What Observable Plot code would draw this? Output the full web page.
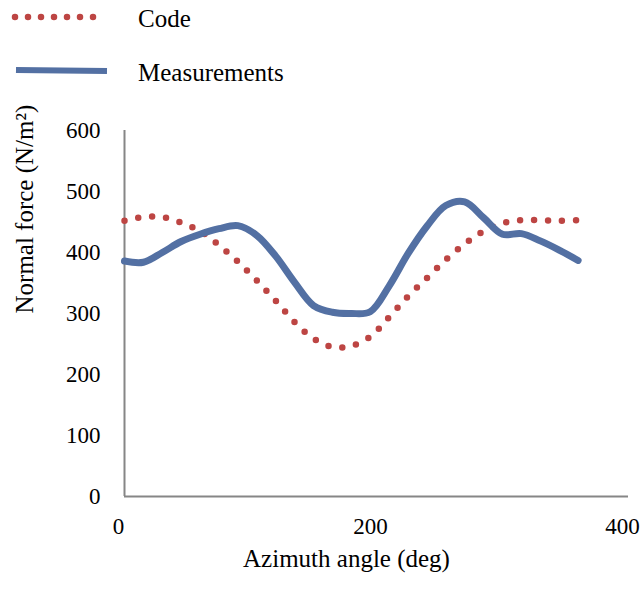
<!DOCTYPE html>
<html>
<head>
<meta charset="utf-8">
<script src="https://cdn.jsdelivr.net/npm/d3@7"></script>
<script src="https://cdn.jsdelivr.net/npm/@observablehq/plot@0.6"></script>
<style>
  html, body { margin: 0; padding: 0; background: #fff; }
  #wrap { position: relative; width: 640px; height: 592px; font-family: "Liberation Serif", "Times New Roman", serif; }
  #legend { position: relative; width: 640px; height: 100px; }
  .lg-text { position: absolute; left: 138px; font-size: 25px; color: #000; line-height: 1; font-family: "Liberation Serif", serif; }
  #plot { position: absolute; left: 0; top: 100px; }
</style>
</head>
<body>
<div id="wrap">
  <div id="legend"></div>
  <div id="plot"></div>
</div>
<script>
// Data
const angles = [0, 15, 30, 45, 60, 75, 90, 105, 120, 135, 150, 165, 180, 195, 210, 225, 240, 255, 270, 285, 300, 315, 330, 345, 360];
const codeValues = [452, 458, 458, 449, 435, 412, 385, 354, 321, 286, 259, 245, 247, 262, 294, 328, 358, 388, 414, 435, 448, 453, 453, 452, 453];
const measuredValues = [386, 384, 400, 418, 430, 439, 444, 428, 394, 351, 313, 302, 300, 303, 345, 398, 443, 477, 483, 457, 430, 431, 419, 404, 387];
const seriesNames = ["Code", "Measurements"];
const xTicks = [0, 200, 400];
const yTicks = [0, 100, 200, 300, 400, 500, 600];
const xTitle = "Azimuth angle (deg)";
const yTitle = "Normal force (N/m\u00B2)";

const red = "#BD4543";
const blue = "#5370A3";
const axisGray = "#868686";

const codeData = angles.map((a, i) => ({angle: a, value: codeValues[i]}));
const measData = angles.map((a, i) => ({angle: a, value: measuredValues[i]}));

// Legend
const legend = document.getElementById("legend");
legend.innerHTML = `
  <svg width="120" height="100" style="position:absolute;left:0;top:0">
    <line x1="15" y1="17" x2="106" y2="17" stroke="${red}" stroke-width="6.5" stroke-linecap="round" stroke-dasharray="0 13"/>
    <line x1="16" y1="70" x2="107" y2="71" stroke="${blue}" stroke-width="6"/>
  </svg>
  <div class="lg-text" style="top:6px">${seriesNames[0]}</div>
  <div class="lg-text" style="top:60px">${seriesNames[1]}</div>
`;

const fontFamily = "'Liberation Serif', 'Times New Roman', serif";

const chart = Plot.plot({
  width: 640,
  height: 492,
  marginLeft: 124,
  marginRight: 12,
  marginTop: 30,
  marginBottom: 96,
  style: {fontFamily, fontSize: "23px", color: "#000", background: "transparent"},
  x: {domain: [0, 400], ticks: xTicks},
  y: {domain: [0, 600], ticks: yTicks},
  marks: [
    Plot.axisX({ticks: xTicks, tickSize: 0, tickPadding: 21, label: null, fontSize: 23, fontFamily, dx: -6}),
    Plot.axisY({ticks: yTicks, tickSize: 0, tickPadding: 24, label: null, fontSize: 23, fontFamily}),
    Plot.ruleX([0], {stroke: axisGray, strokeWidth: 2}),
    Plot.ruleY([0], {stroke: axisGray, strokeWidth: 2}),
    Plot.line(codeData, {x: "angle", y: "value", curve: "catmull-rom", stroke: red, strokeWidth: 6.5, strokeLinecap: "round", strokeDasharray: "0 14"}),
    Plot.line(measData, {x: "angle", y: "value", curve: "catmull-rom", stroke: blue, strokeWidth: 7, strokeLinecap: "round", strokeLinejoin: "round"}),
    Plot.text([xTitle], {frameAnchor: "bottom", dx: -30, dy: 70, fontSize: 25, fontFamily, fill: "#000"}),
    Plot.text([yTitle], {frameAnchor: "left", dx: -100, rotate: -90, fontSize: 25, fontFamily, fill: "#000"})
  ]
});
document.getElementById("plot").appendChild(chart);
</script>
</body>
</html>
